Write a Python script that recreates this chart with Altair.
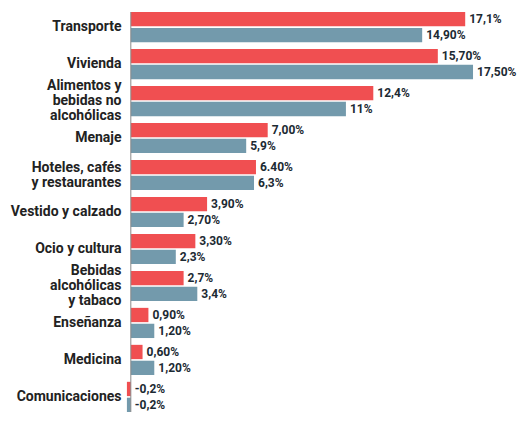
import altair as alt
import pandas as pd

categories = [
    "Transporte",
    "Vivienda",
    "Alimentos y\nbebidas no\nalcohólicas",
    "Menaje",
    "Hoteles, cafés\ny restaurantes",
    "Vestido y calzado",
    "Ocio y cultura",
    "Bebidas\nalcohólicas\ny tabaco",
    "Enseñanza",
    "Medicina",
    "Comunicaciones",
]
red_values = [17.1, 15.7, 12.4, 7.0, 6.4, 3.9, 3.3, 2.7, 0.9, 0.6, -0.2]
blue_values = [14.9, 17.5, 11.0, 5.9, 6.3, 2.7, 2.3, 3.4, 1.2, 1.2, -0.2]
red_labels = ["17,1%", "15,70%", "12,4%", "7,00%", "6.40%", "3,90%", "3,30%", "2,7%", "0,90%", "0,60%", "-0,2%"]
blue_labels = ["14,90%", "17,50%", "11%", "5,9%", "6,3%", "2,70%", "2,3%", "3,4%", "1,20%", "1,20%", "-0,2%"]
series = ["rojo", "azul"]
colors = ["#f04f51", "#739aac"]

rows = []
for c, v, l in zip(categories, red_values, red_labels):
    rows.append({"category": c, "series": series[0], "value": v, "label": l})
for c, v, l in zip(categories, blue_values, blue_labels):
    rows.append({"category": c, "series": series[1], "value": v, "label": l})
df = pd.DataFrame(rows)

nlines = "length(split(datum.label, '\\n'))"
y = alt.Y(
    "category:N",
    sort=categories,
    scale=alt.Scale(paddingInner=0.184, paddingOuter=0),
    axis=alt.Axis(
        title=None, domain=False, ticks=False, labelPadding=2,
        labelExpr="split(datum.label, '\\n')",
        labelFont="Roboto", labelFontWeight="bold", labelFontSize=14,
        labelColor="#222222", labelLineHeight=15, labelLimit=0,
        labelOffset={"condition": [
            {"test": nlines + " == 3", "value": -15},
            {"test": nlines + " == 2", "value": -7},
        ], "value": 0},
    ),
)
yoff = alt.YOffset("series:N", sort=series, scale=alt.Scale(paddingInner=0.1, paddingOuter=0))
xscale = alt.Scale(domain=[-0.4, 19.8], nice=False, zero=False)

base = alt.Chart(df)

bars = base.mark_bar().encode(
    x=alt.X("value:Q", scale=xscale, axis=None),
    x2=alt.datum(0),
    y=y,
    yOffset=yoff,
    color=alt.Color("series:N", scale=alt.Scale(domain=series, range=colors), legend=None),
)

texts = base.transform_calculate(
    xpos="max(datum.value, 0)"
).mark_text(
    align="left", baseline="middle", dx=4, font="Roboto", fontWeight="bold",
    fontSize=12, color="#1c2a33",
).encode(
    x=alt.X("xpos:Q", scale=xscale, axis=None),
    y=y,
    yOffset=yoff,
    text="label:N",
)

rule = alt.Chart(pd.DataFrame({"z": [0]})).mark_rule(color="#8a8a8a", strokeWidth=1).encode(
    x=alt.X("z:Q", scale=xscale, axis=None)
)

chart = alt.layer(bars, rule, texts).properties(
    width=395, height=400,
    autosize=alt.AutoSizeParams(type="none"),
    padding={"left": 115, "top": 4, "right": 0, "bottom": 0},
).configure(background="white").configure_view(stroke=None)

chart.save("out.html", embed_options={"renderer": "svg", "actions": False})
